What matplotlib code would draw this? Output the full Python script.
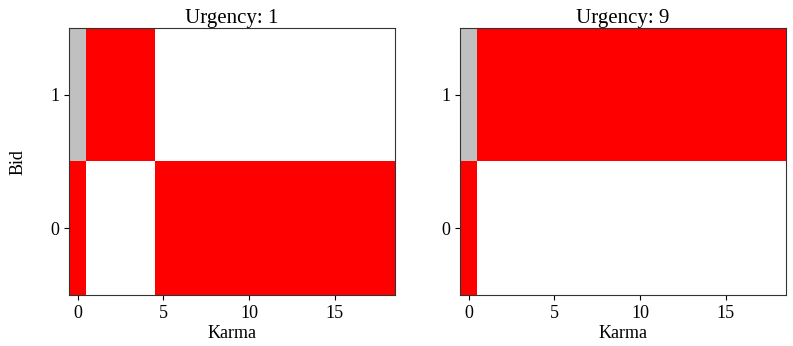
import numpy as np
import matplotlib
matplotlib.use('Agg')
import matplotlib.pyplot as plt
from matplotlib.colors import ListedColormap

plt.rcParams['font.family'] = ['Liberation Serif', 'DejaVu Serif']

karma = list(range(19))
bids = [0, 1]
urgencies = [1, 9]

# action map per urgency: 0 = chosen (red), 1 = not chosen (white), 2 = infeasible (gray)
# rows: bid 0, bid 1 ; columns: karma 0..18
policy_u1 = [
    [0, 1, 1, 1, 1, 0, 0, 0, 0, 0, 0, 0, 0, 0, 0, 0, 0, 0, 0],
    [2, 0, 0, 0, 0, 1, 1, 1, 1, 1, 1, 1, 1, 1, 1, 1, 1, 1, 1],
]
policy_u9 = [
    [0, 1, 1, 1, 1, 1, 1, 1, 1, 1, 1, 1, 1, 1, 1, 1, 1, 1, 1],
    [2, 0, 0, 0, 0, 0, 0, 0, 0, 0, 0, 0, 0, 0, 0, 0, 0, 0, 0],
]

cmap = ListedColormap(['#ff0000', '#ffffff', '#c0c0c0'])

fig = plt.figure(figsize=(7.93, 3.46), dpi=100)
ax1 = fig.add_axes([0.087, 0.147, 0.411, 0.772])
ax2 = fig.add_axes([0.580, 0.147, 0.411, 0.772])

for ax, pol, u in zip([ax1, ax2], [policy_u1, policy_u9], urgencies):
    ax.imshow(np.array(pol), cmap=cmap, vmin=0, vmax=2, origin='lower',
              aspect='auto', interpolation='nearest',
              extent=(karma[0] - 0.5, karma[-1] + 0.5, bids[0] - 0.5, bids[-1] + 0.5))
    ax.set_title(f'Urgency: {u}', fontsize=15, pad=3)
    ax.set_xlabel('Karma', fontsize=13, labelpad=2)
    ax.set_xticks([0, 5, 10, 15])
    ax.set_yticks(bids)
    ax.tick_params(labelsize=13)
    for s in ax.spines.values():
        s.set_color('#333333')

ax1.set_ylabel('Bid', fontsize=13, labelpad=17)

fig.savefig('out.png', dpi=100)
